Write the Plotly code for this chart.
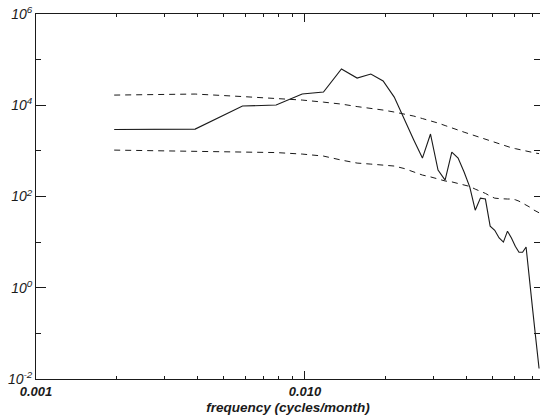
import plotly.graph_objects as go

# Frequencies (cycles/month)
freq = [0.001953, 0.003906, 0.005859, 0.007813, 0.009766, 0.01172, 0.01367, 0.01563,
        0.01758, 0.01953, 0.02148, 0.02344, 0.02539, 0.02734, 0.02930, 0.03125,
        0.03320, 0.03516, 0.03711, 0.03906, 0.04102, 0.04297, 0.04492, 0.04688,
        0.04883, 0.05078, 0.05273, 0.05469, 0.05664, 0.05859, 0.06055, 0.06250,
        0.06445, 0.06641, 0.06836, 0.07031, 0.07227, 0.07422]

# Power spectrum (solid)
spectrum = [2930, 3000, 9600, 10100, 17600, 19500, 62200, 39400,
            48300, 34000, 15100, 4730, 1730, 695, 2340, 380,
            229, 942, 695, 343, 161, 50, 92, 88,
            22.4, 18.2, 12.3, 10.0, 17.4, 12.3, 8.1, 6.0,
            6.0, 7.8, 1.26, 0.32, 0.071, 0.017]

# Upper dashed curve
upper = [16700, 17600, 15500, 14000, 13000, 11700, 10600, 9350,
         8690, 7850, 7100, 6410, 5790, 5110, 4610, 4070,
         3590, 3240, 2860, 2570, 2340, 2090, 1910, 1780,
         1620, 1510, 1410, 1350, 1230, 1170, 1120, 1070,
         1020, 1000, 933, 912, 891, 871]

# Lower dashed curve
lower = [1040, 991, 942, 918, 851, 769, 628, 540,
         513, 490, 465, 409, 343, 295, 269, 240,
         219, 209, 191, 178, 166, 145, 132, 117,
         102, 92, 90, 88, 88, 88, 85, 79,
         72, 65, 59, 52, 48, 44]

y_major = [1e-2, 1, 1e2, 1e4, 1e6]
y_major_text = ["10<sup>-2</sup>", "10<sup>0</sup>", "10<sup>2</sup>", "10<sup>4</sup>", "10<sup>6</sup>"]
y_minor = [1e-1, 1e1, 1e3, 1e5]
y_right = [1e-2, 1e-1, 1, 1e1, 1e2, 1e3, 1e4, 1e5, 1e6]
x_major = [0.001, 0.01]
x_major_text = ["0.001", "0.010"]
x_minor = [0.002, 0.003, 0.004, 0.005, 0.006, 0.007, 0.008, 0.009,
           0.02, 0.03, 0.04, 0.05, 0.06, 0.07]

ink = "#1a1a1a"
font_fam = "Liberation Sans, Arial, sans-serif"

fig = go.Figure()
fig.add_trace(go.Scatter(x=freq, y=spectrum, mode="lines",
                         line=dict(color=ink, width=1.1), hoverinfo="skip"))
fig.add_trace(go.Scatter(x=freq, y=upper, mode="lines",
                         line=dict(color=ink, width=1, dash="6px,5px"), hoverinfo="skip"))
fig.add_trace(go.Scatter(x=freq, y=lower, mode="lines", yaxis="y2",
                         line=dict(color=ink, width=1, dash="6px,5px"), hoverinfo="skip"))

fig.update_layout(
    width=540, height=419,
    margin=dict(l=36, r=0, t=14, b=40, autoexpand=False),
    paper_bgcolor="white", plot_bgcolor="white",
    showlegend=False,
    font=dict(family=font_fam, color=ink, style="italic"),
    xaxis=dict(
        type="log", range=[-3, -1.126], automargin=False,
        tickmode="array", tickvals=x_major, ticktext=x_major_text,
        ticks="inside", ticklen=8, tickwidth=1, tickcolor=ink,
        tickfont=dict(size=13, family=font_fam, style="italic", weight="bold"),
        minor=dict(tickmode="array", tickvals=x_minor, ticks="inside", ticklen=3,
                   tickcolor=ink, showgrid=False),
        showline=True, linecolor=ink, linewidth=1, mirror="ticks",
        showgrid=False, zeroline=False,
        title=dict(text="frequency (cycles/month)", standoff=4,
                   font=dict(size=13.5, family=font_fam, style="italic", weight="bold")),
    ),
    yaxis=dict(
        type="log", range=[-2, 6], automargin=False,
        tickmode="array", tickvals=y_major, ticktext=y_major_text,
        ticks="inside", ticklen=10, tickwidth=1, tickcolor=ink,
        tickfont=dict(size=14, family=font_fam, style="italic"),
        minor=dict(tickmode="array", tickvals=y_minor, ticks="inside", ticklen=5,
                   tickcolor=ink, showgrid=False),
        showline=True, linecolor=ink, linewidth=1,
        showgrid=False, zeroline=False,
    ),
    yaxis2=dict(
        type="log", range=[-2, 6], overlaying="y", side="right", automargin=False,
        tickmode="array", tickvals=y_right, showticklabels=False,
        ticks="inside", ticklen=6, tickcolor=ink,
        showline=False, showgrid=False, zeroline=False,
    ),
)

fig.write_html("out.html", config={"displayModeBar": False},
               post_script="document.body.style.margin='0';document.body.style.padding='0';")
